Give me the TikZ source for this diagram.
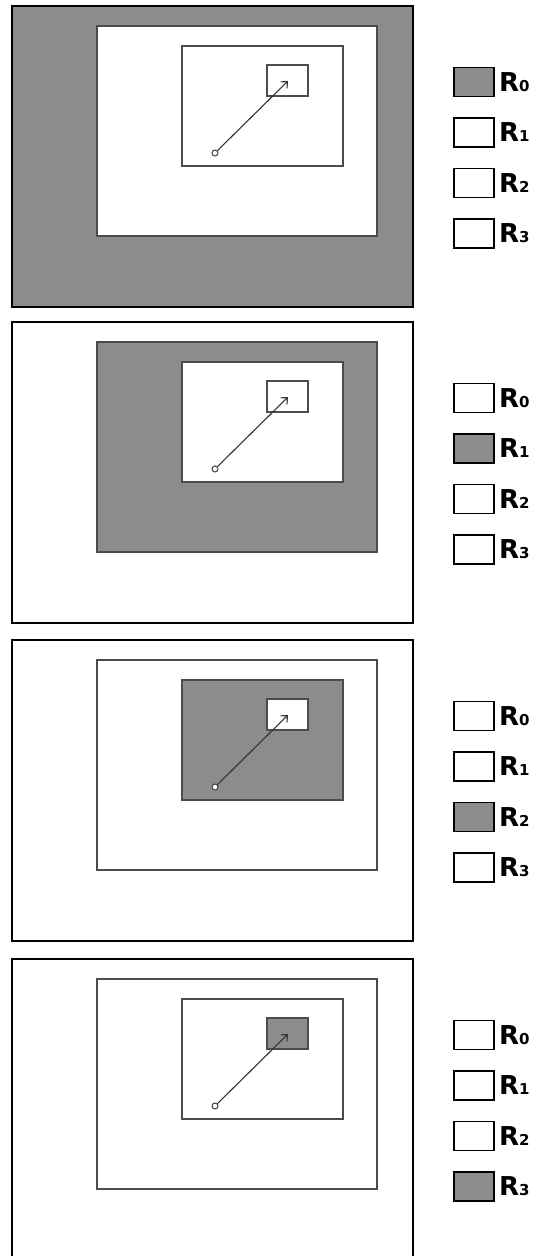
\documentclass[tikz,border=0pt]{standalone}
\usepackage{fontspec}
\setsansfont{DejaVu Sans}
\usetikzlibrary{positioning,arrows.meta}
\definecolor{shade}{gray}{0.55}

\begin{document}
\begin{tikzpicture}[
    x=1pt, y=-1pt,
    panel/.style={draw=black, line width=2pt},
    region/.style={draw=black!70, line width=1.2pt},
    start/.style={circle, draw=black!75, line width=1pt, fill=white, inner sep=0pt, minimum size=6pt},
    arr/.style={-{Straight Barb[length=5pt, width=9pt]}, black!80, line width=1.1pt},
    key/.style={rectangle, draw=black, line width=1.8pt, minimum width=40pt, minimum height=29pt, inner sep=0pt},
    keylabel/.style={inner sep=0pt, font=\sffamily\bfseries\fontsize{26}{26}\selectfont}
]
\useasboundingbox (0,0) rectangle (533,1256);

% one panel per region R0..R3, the shaded one moves inwards
\foreach \p/\top in {0/6, 1/322, 2/640, 3/959} {
  % nested regions
  \foreach \r/\xa/\ya/\xb/\yb in {0/12/0/413/301, 1/97/20/377/230, 2/182/40/343/160, 3/267/59/308/90} {
    \ifnum\r=\p \def\fc{shade}\else\def\fc{white}\fi
    \ifnum\r=0
      \draw[panel, fill=\fc] (\xa,\top+\ya) rectangle (\xb,\top+\yb);
    \else
      \draw[region, fill=\fc] (\xa,\top+\ya) rectangle (\xb,\top+\yb);
    \fi
  }
  % move into the innermost region
  \node[start] (src\p) at (215,\top+147) {};
  \coordinate (dst\p) at (288,\top+75);
  \draw[arr] (src\p) -- (dst\p);

  % legend
  \foreach \r in {0,...,3} {
    \ifnum\r=\p \def\fc{shade}\else\def\fc{white}\fi
    \node[key, fill=\fc] (key\p\r) at (474,\top+76+50.5*\r) {};
    \node[keylabel, right=4pt of key\p\r] (lab\p\r) {R{\fontsize{15}{15}\selectfont\r}};
  }
}
\end{tikzpicture}
\end{document}
